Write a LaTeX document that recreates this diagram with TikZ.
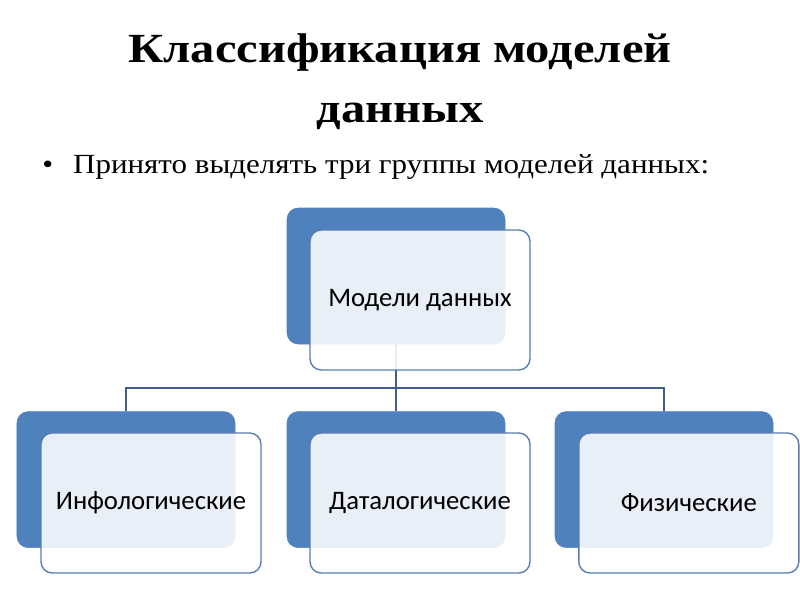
\documentclass[tikz,border=0pt]{standalone}
\usepackage{fontspec}
\setmainfont{Liberation Serif}
\newfontfamily\titlefont[FakeStretch=1.17]{Liberation Serif}
\newfontfamily\leadfont[FakeStretch=1.12]{Liberation Serif}
\newfontfamily\boxfont{Carlito}
\usetikzlibrary{positioning}
\definecolor{accent}{HTML}{4F81BD}
\definecolor{edgeblue}{HTML}{5A7DB0}
\definecolor{wire}{HTML}{3F5E8C}
\tikzset{
    back/.style={draw=accent, fill=accent, rounded corners=8pt,
                 minimum width=5.45cm, minimum height=3.4cm},
    front/.style={draw=edgeblue, line width=1pt, fill=white, fill opacity=0.88,
                  text opacity=1, rounded corners=8pt, minimum width=5.5cm,
                  minimum height=3.5cm, font=\boxfont\fontsize{19}{22}\selectfont},
    link/.style={draw=wire, line width=0.9pt},
}
\begin{document}
\begin{tikzpicture}
    \useasboundingbox (0,0) rectangle (20,-15);

    \node[align=center, font=\titlefont\bfseries\fontsize{29.5}{42.6}\selectfont] (title) at (10,-2.05)
        {Классификация моделей\\данных};
    \node[anchor=base west, inner sep=0pt, font=\leadfont\fontsize{19.7}{24}\selectfont] (lead) at (1.05,-4.33)
        {\textbullet\hspace{0.5cm}Принято выделять три группы моделей данных:};

    % back plates
    \node[back] (modelsback) at (9.9,-6.9) {};
    \node[back] (infoback) at (3.15,-11.99) {};
    \node[back] (databack) at (9.9,-11.99) {};
    \node[back] (physback) at (16.6,-11.99) {};

    % tree lines
    \coordinate (bus) at (9.9,-9.7);
    \draw[link] (modelsback.south) -- (bus);
    \draw[link] (infoback.north) |- (bus) -| (physback.north);
    \draw[link] (bus) -- (databack.north);

    % front cards
    \node[front] (models) at (10.5,-7.5) {Модели данных};
    \node[front] (info) at (3.775,-12.575) {Инфологические};
    \node[front] (data) at (10.5,-12.575) {Даталогические};
    \node[front] (phys) at (17.22,-12.575) {Физические};

\end{tikzpicture}
\end{document}
